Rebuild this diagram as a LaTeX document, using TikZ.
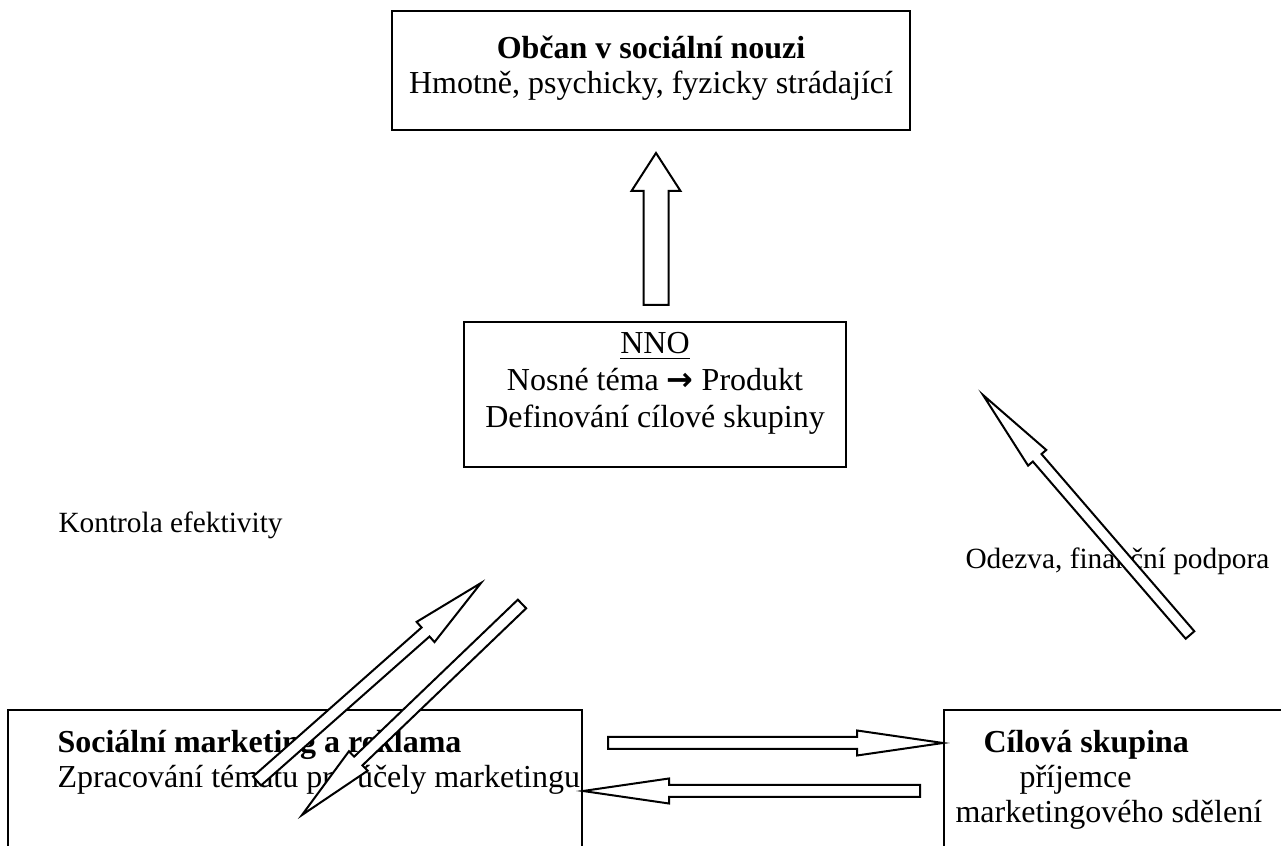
\documentclass[tikz,border=0pt]{standalone}
\usepackage{fontspec}
\setmainfont{Liberation Serif}
\newfontfamily\arrowfont{DejaVu Sans}
\usetikzlibrary{calc}

\tikzset{
  box/.style={draw, line width=0.75pt, inner sep=0pt},
  txt/.style={inner sep=0pt, anchor=base, font=\fontsize{12}{14}\selectfont},
  txtl/.style={txt, anchor=base west},
  label/.style={txtl, font=\fontsize{11}{13}\selectfont},
  blockarr/.style={draw, fill=white, line width=0.75pt, line join=miter}
}

% bloková šipka: #1 začátek, #2 hrot, #3 půl šířky dříku, #4 půl šířky hlavy, #5 délka hlavy
\newcommand{\blockarrow}[5]{%
  \coordinate (hb) at ($(#2)!#5!(#1)$);
  \draw[blockarr] ($(#1)!#3!90:(#2)$) -- ($(hb)!#3!-90:(#1)$) -- ($(hb)!#4!-90:(#1)$) -- (#2)
    -- ($(hb)!#4!90:(#1)$) -- ($(hb)!#3!90:(#1)$) -- ($(#1)!#3!-90:(#2)$) -- cycle;
}

\begin{document}
\begin{tikzpicture}[x=0.375pt, y=-0.375pt]
    \clip (0,0) rectangle (1281,846);

    % rámečky
    \node[box, minimum width=194.25pt, minimum height=44.625pt] (obcan) at (651,70.5) {};
    \node[box, minimum width=143.25pt, minimum height=54.375pt] (nno) at (655,394.5) {};
    \node[box, minimum width=215.25pt, minimum height=71.25pt] (reklama) at (295,805) {};
    \node[box, minimum width=148.5pt, minimum height=71.25pt] (cilova) at (1142,805) {};

    % texty v rámečcích
    \node[txt] (obcan-t1) at (651,59) {\textbf{Občan v sociální nouzi}};
    \node[txt] (obcan-t2) at (651,94) {Hmotně, psychicky, fyzicky strádající};
    \node[txt] (nno-t1) at (655,354) {\underline{NNO}};
    \node[txt] (nno-t2) at (655,391) {Nosné téma {\arrowfont\bfseries →} Produkt};
    \node[txt] (nno-t3) at (655,428) {Definování cílové skupiny};
    \node[txtl] (reklama-t1) at (57,753) {\textbf{Sociální marketing a reklama}};
    \node[txtl] (reklama-t2) at (57,788) {Zpracování tématu pro účely marketingu};
    \node[txtl] (cilova-t1) at (983,753) {\textbf{Cílová skupina}};
    \node[txtl] (cilova-t2) at (1019,788) {příjemce};
    \node[txtl] (cilova-t3) at (955,823) {marketingového sdělení};

    % popisky
    \node[label] (kontrola) at (58,533) {Kontrola efektivity};
    \node[label] (odezva) at (965,569) {Odezva, finanční podpora};

    % konce šipek
    \coordinate (up-a) at (656,305);    \coordinate (up-b) at (656,153);
    \coordinate (ri-a) at (608,743);    \coordinate (ri-b) at (cilova.west |- 0,743);
    \coordinate (le-a) at (920,791);    \coordinate (le-b) at (reklama.east |- 0,791);
    \coordinate (od-a) at (1190,635);   \coordinate (od-b) at (983,395);
    \coordinate (ko-a) at (257,781);    \coordinate (ko-b) at (481,583);
    \coordinate (zp-a) at (522,604);    \coordinate (zp-b) at (302,815);

    % šipky
    \blockarrow{up-a}{up-b}{4.69pt}{9.19pt}{14.25pt}
    \blockarrow{ri-a}{ri-b}{2.25pt}{4.69pt}{32.25pt}
    \blockarrow{le-a}{le-b}{2.25pt}{4.69pt}{32.25pt}
    \blockarrow{od-a}{od-b}{2.14pt}{4.5pt}{31.1pt}
    \blockarrow{ko-a}{ko-b}{2.25pt}{5.06pt}{27.75pt}
    \blockarrow{zp-a}{zp-b}{2.25pt}{5.06pt}{29.25pt}
\end{tikzpicture}
\end{document}
